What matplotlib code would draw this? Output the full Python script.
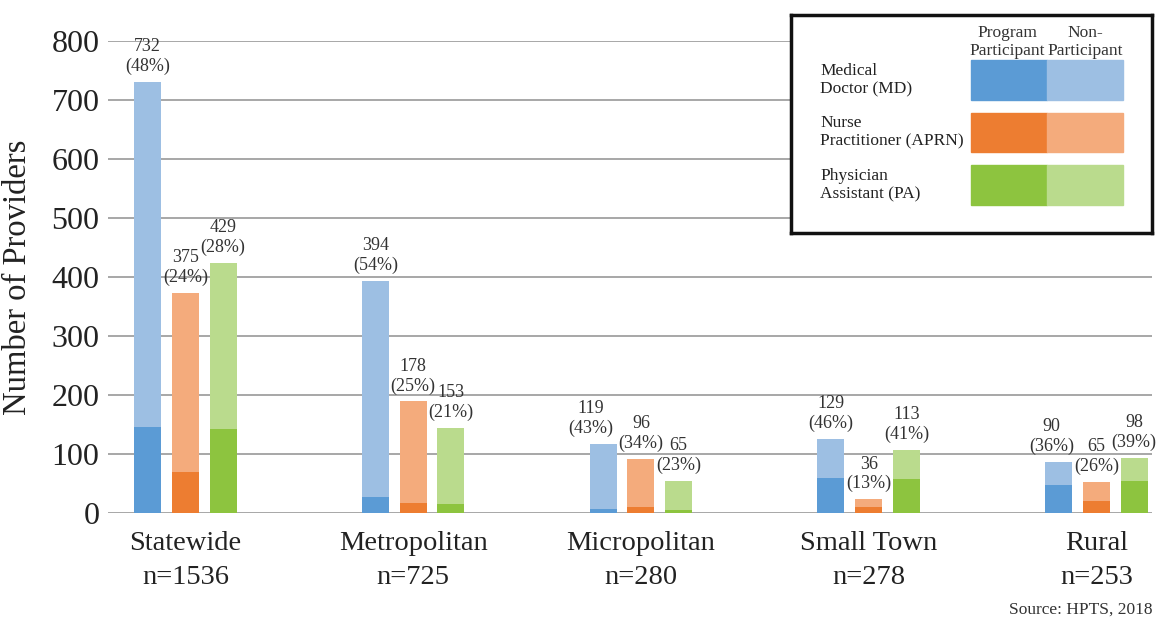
import matplotlib
matplotlib.use("Agg")
import matplotlib.pyplot as plt
import numpy as np
from matplotlib.patches import Rectangle

plt.rcParams["font.family"] = ["Liberation Serif", "DejaVu Serif"]

# data
regions = ["Statewide", "Metropolitan", "Micropolitan", "Small Town", "Rural"]
region_n = [1536, 725, 280, 278, 253]
providers = ["Medical\nDoctor (MD)", "Nurse\nPractitioner (APRN)", "Physician\nAssistant (PA)"]

# bar heights as drawn (total) and the program participant part
md_total = [730, 393, 117, 125, 86]
aprn_total = [373, 189, 91, 23, 52]
pa_total = [424, 144, 54, 107, 93]
md_part = [146, 27, 7, 60, 47]
aprn_part = [70, 17, 10, 10, 21]
pa_part = [142, 15, 5, 58, 55]

# value labels printed above the bars
md_label = [732, 394, 119, 129, 90]
aprn_label = [375, 178, 96, 36, 65]
pa_label = [429, 153, 65, 113, 98]
md_pct = [48, 54, 43, 46, 36]
aprn_pct = [24, 25, 34, 13, 26]
pa_pct = [28, 21, 23, 41, 39]

dark = ["#5B9BD5", "#ED7D31", "#8DC43F"]
light = ["#9DBFE3", "#F4AB7C", "#BADB8D"]

totals = [md_total, aprn_total, pa_total]
parts = [md_part, aprn_part, pa_part]
labels = [md_label, aprn_label, pa_label]
pcts = [md_pct, aprn_pct, pa_pct]

# a few labels sit left of their bar in the original (points)
label_nudge = {(0, 2): -9, (0, 4): -5}

fig = plt.figure(figsize=(11.57, 6.2), dpi=100, facecolor="white")
ax = fig.add_axes([0.0933, 0.1726, 0.9024, 0.7613])

x = np.arange(len(regions))
step = 0.1658
width = 0.1186
for k in range(3):
    xs = x + (k - 1) * step
    part = np.array(parts[k])
    non = np.array(totals[k]) - part
    ax.bar(xs, part, width, color=dark[k], zorder=3)
    ax.bar(xs, non, width, bottom=part, color=light[k], zorder=3)
    for i in range(len(regions)):
        ax.annotate(f"{labels[k][i]}\n({pcts[k][i]}%)", (xs[i], totals[k][i]),
                    xytext=(label_nudge.get((k, i), 0), 5),
                    textcoords="offset points", ha="center", va="bottom",
                    fontsize=13, linespacing=1.2, color="#333333")

ax.set_xlim(-0.34, 4.244)
ax.set_ylim(0, 800)
ax.set_yticks(range(0, 801, 100))
ax.set_xticks(x)
ax.set_xticklabels([f"{r}\nn={n}" for r, n in zip(regions, region_n)],
                   fontsize=20.5, linespacing=1.45, color="#222222")
ax.tick_params(axis="y", labelsize=23, length=0, pad=6, colors="#222222")
ax.tick_params(axis="x", length=0, pad=13)
ax.grid(axis="y", color="#A0A0A0", linewidth=1.3, zorder=0)
for s in ax.spines.values():
    s.set_visible(False)
ax.set_ylabel("Number of Providers", fontsize=23.5, color="#222222")
ax.yaxis.set_label_coords(-0.0718, 0.5)

fig.text(0.9965, 0.016, "Source: HPTS, 2018", ha="right", va="center",
         fontsize=12.5, color="#333333")

# legend box drawn in its own axes (pixel units inside the box)
lg = fig.add_axes([0.6837, 0.6242, 0.3120, 0.3516], zorder=5)
lg.set_xlim(0, 361)
lg.set_ylim(218, 0)
lg.set_xticks([])
lg.set_yticks([])
lg.set_facecolor("white")
for s in lg.spines.values():
    s.set_linewidth(2.5)
    s.set_color("#111111")
lg.text(216, 27, "Program\nParticipant", ha="center", va="center", fontsize=12.5,
        color="#333333", linespacing=1.1)
lg.text(294, 27, "Non-\nParticipant", ha="center", va="center", fontsize=12.5,
        color="#333333", linespacing=1.1)
for k in range(3):
    y0 = 45 + k * 52.5
    lg.add_patch(Rectangle((180, y0), 76, 40, color=dark[k]))
    lg.add_patch(Rectangle((256, y0), 76, 40, color=light[k]))
    lg.text(29, y0 + 20, providers[k], ha="left", va="center", fontsize=12.5,
            color="#222222", linespacing=1.2)

fig.savefig("out.png", dpi=100, facecolor="white")
